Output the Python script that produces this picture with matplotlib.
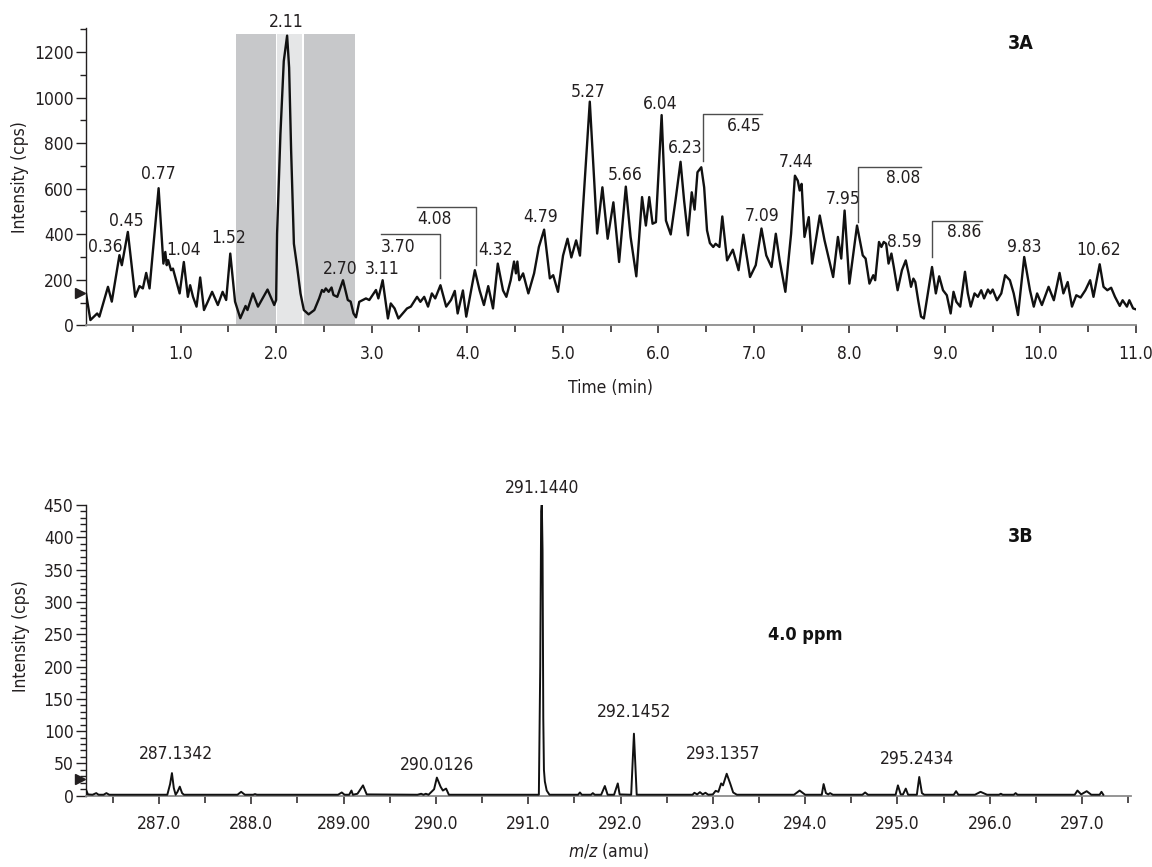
import matplotlib
matplotlib.use("Agg")
import matplotlib.pyplot as plt
import matplotlib.transforms as mtransforms
from matplotlib import font_manager
from matplotlib.ticker import MultipleLocator, FixedLocator, FixedFormatter

# --- chromatogram (3A): retention time (min) vs intensity (cps)
time_min = [0.01, 0.056, 0.127, 0.15, 0.24, 0.28, 0.36, 0.385, 0.448, 0.525, 0.57, 0.605,
            0.64, 0.675, 0.77, 0.82, 0.84, 0.855, 0.87, 0.90, 0.92, 0.99, 1.034, 1.076, 1.10,
            1.13, 1.167, 1.205, 1.245, 1.285, 1.33, 1.39, 1.44, 1.477, 1.52, 1.57, 1.625, 1.68,
            1.70, 1.757, 1.81, 1.91, 1.98, 2.00, 2.01, 2.045, 2.08, 2.115, 2.136, 2.157, 2.186,
            2.22, 2.255, 2.29, 2.34, 2.40, 2.45, 2.48, 2.50, 2.52, 2.55, 2.58, 2.60, 2.64, 2.70,
            2.75, 2.78, 2.81, 2.836, 2.87, 2.94, 2.975, 3.045, 3.07, 3.115, 3.17, 3.20, 3.24,
            3.28, 3.325, 3.37, 3.41, 3.475, 3.51, 3.55, 3.59, 3.63, 3.665, 3.72, 3.78, 3.83,
            3.87, 3.90, 3.955, 3.99, 4.035, 4.08, 4.13, 4.175, 4.22, 4.27, 4.32, 4.375, 4.41,
            4.455, 4.49, 4.51, 4.525, 4.545, 4.585, 4.64, 4.70, 4.75, 4.805, 4.865, 4.90, 4.95,
            5.003, 5.05, 5.09, 5.14, 5.18, 5.283, 5.36, 5.415, 5.47, 5.53, 5.59, 5.66, 5.71,
            5.77, 5.83, 5.87, 5.905, 5.94, 5.975, 6.035, 6.08, 6.13, 6.18, 6.233, 6.27, 6.31,
            6.35, 6.38, 6.41, 6.45, 6.48, 6.51, 6.54, 6.575, 6.60, 6.64, 6.67, 6.72, 6.78, 6.84,
            6.89, 6.96, 7.02, 7.08, 7.13, 7.185, 7.23, 7.27, 7.33, 7.39, 7.43, 7.46, 7.48, 7.50,
            7.53, 7.575, 7.61, 7.69, 7.74, 7.83, 7.88, 7.915, 7.95, 8.00, 8.08, 8.14, 8.17,
            8.21, 8.25, 8.27, 8.31, 8.335, 8.36, 8.385, 8.41, 8.44, 8.465, 8.505, 8.55, 8.59,
            8.62, 8.645, 8.67, 8.69, 8.72, 8.75, 8.78, 8.81, 8.865, 8.905, 8.94, 8.98, 9.02,
            9.06, 9.09, 9.12, 9.16, 9.21, 9.24, 9.27, 9.31, 9.345, 9.38, 9.41, 9.45, 9.475,
            9.50, 9.545, 9.59, 9.63, 9.68, 9.72, 9.765, 9.83, 9.89, 9.93, 9.965, 10.015, 10.085,
            10.14, 10.20, 10.24, 10.285, 10.33, 10.375, 10.42, 10.47, 10.52, 10.555, 10.62,
            10.66, 10.70, 10.74, 10.78, 10.83, 10.86, 10.905, 10.93, 10.97, 11.0]
tic_cps = [140, 23, 52, 38, 169, 104, 308, 264, 410, 125, 172, 162,
           230, 162, 602, 271, 322, 264, 286, 242, 249, 140, 278, 125, 176,
           125, 82, 210, 67, 104, 147, 89, 147, 111, 315, 104, 31, 85,
           67, 140, 82, 157, 89, 111, 402, 840, 1160, 1272, 1131, 767, 358,
           256, 140, 67, 48, 67, 118, 155, 147, 162, 147, 166, 133, 125, 198,
           111, 104, 52, 35, 103, 118, 111, 155, 118, 198, 30, 96, 74,
           30, 52, 74, 82, 125, 103, 125, 82, 140, 118, 176, 82, 111,
           151, 52, 153, 38, 140, 242, 153, 89, 172, 74, 271, 153, 125,
           198, 280, 228, 280, 198, 228, 140, 228, 344, 420, 206, 220, 147,
           306, 380, 298, 373, 306, 982, 403, 606, 380, 540, 278, 609, 388,
           215, 563, 438, 563, 446, 453, 923, 460, 399, 548, 718, 548, 395,
           584, 508, 672, 694, 606, 417, 361, 344, 358, 344, 478, 285, 332, 242,
           398, 212, 264, 425, 307, 256, 402, 285, 147, 402, 657, 635, 592, 621,
           388, 475, 271, 482, 373, 212, 388, 293, 504, 183, 438, 307, 293,
           183, 220, 198, 366, 344, 366, 358, 271, 315, 256, 154, 242, 285,
           227, 169, 205, 190, 110, 38, 30, 110, 256, 140, 215, 154, 132,
           52, 147, 103, 82, 235, 140, 82, 140, 125, 154, 118, 157, 140,
           157, 110, 140, 220, 198, 140, 45, 300, 154, 82, 140, 89, 169,
           110, 230, 140, 190, 82, 132, 122, 154, 198, 125, 268,
           169, 154, 165, 125, 85, 110, 82, 110, 74, 70]

# peak labels on the chromatogram
rt_labels = ["0.36", "0.45", "0.77", "1.04", "1.52", "2.11", "2.70", "3.11", "4.32", "4.79",
             "5.27", "5.66", "6.04", "6.23", "7.09", "7.44", "7.95", "8.59", "9.83", "10.62"]
rt_label_x = [0.215, 0.435, 0.767, 1.028, 1.505, 2.105, 2.675, 3.105, 4.30, 4.767,
              5.265, 5.65, 6.024, 6.28, 7.085, 7.44, 7.94, 8.57, 9.83, 10.61]
rt_label_y = [344, 460, 665, 332, 383, 1332, 249, 249, 329, 475,
              1026, 662, 971, 779, 482, 716, 555, 366, 344, 332]

# bracketed labels: vertical tick at peak, horizontal bar to the label side
br_labels = ["3.70", "4.08", "6.45", "8.08", "8.86"]
br_x = [3.71, 4.087, 6.463, 8.09, 8.866]
br_low = [207, 264, 723, 453, 300]
br_high = [400, 519, 930, 697, 456]
br_end = [3.10, 3.475, 7.09, 8.75, 9.39]
br_text_y = [346, 465, 876, 647, 410]

# integration windows (min)
win_start = [1.575, 2.01, 2.287]
win_end = [1.997, 2.266, 2.823]
win_top = 1279

# --- mass spectrum (3B): m/z vs intensity (cps)
mz = [286.21, 286.23, 286.28, 286.32, 286.345, 286.40, 286.43, 286.46, 287.09, 287.12,
      287.14, 287.16, 287.18, 287.20, 287.225, 287.25, 287.27, 287.85, 287.89, 287.93,
      288.02, 288.04, 288.06, 288.94, 288.98, 289.01, 289.06, 289.085, 289.10, 289.15,
      289.21, 289.25, 289.80, 289.84, 289.865, 289.89, 289.92, 289.98, 290.01, 290.05,
      290.075, 290.11, 290.14, 291.115, 291.13, 291.14, 291.147, 291.155, 291.163, 291.17,
      291.18, 291.20, 291.23, 291.54, 291.56, 291.58, 291.68, 291.70, 291.72, 291.79,
      291.83, 291.86, 291.93, 291.97, 291.99, 292.115, 292.13, 292.145, 292.16, 292.175,
      292.78, 292.80, 292.83, 292.86, 292.89, 292.92, 292.95, 293.00, 293.03, 293.06,
      293.09, 293.11, 293.15, 293.19, 293.22, 293.26, 293.88, 293.94, 294.00, 294.18,
      294.20, 294.225, 294.25, 294.27, 294.30, 294.62, 294.65, 294.68, 294.98, 295.005,
      295.035, 295.06, 295.09, 295.115, 295.21, 295.236, 295.265, 295.29, 295.61, 295.635,
      295.66, 295.84, 295.90, 295.97, 296.10, 296.12, 296.14, 296.26, 296.28, 296.30,
      296.92, 296.95, 296.99, 297.05, 297.10, 297.19, 297.21, 297.23]
ms_cps = [9, 2, 1.5, 4, 1.5, 1.5, 4, 1.5, 1.5, 18,
          35, 12, 1.5, 6, 14, 4, 1.5, 1.5, 6, 1.5,
          1.5, 2.5, 1.5, 1.5, 5, 1.5, 1.5, 8, 1.5, 3,
          16, 2, 1.5, 3, 1.5, 3, 1.5, 10, 28, 14,
          8, 11, 1.5, 1.5, 200, 440, 453, 380, 120, 40,
          22, 8, 1.5, 1.5, 5, 1.5, 1.5, 4, 1.5, 1.5,
          15, 1.5, 1.5, 19, 2, 1.5, 50, 96, 50, 1.5,
          1.5, 4.5, 2, 5.5, 2, 4.5, 1.5, 2, 7.5, 6,
          19, 16, 34, 18, 5, 1.5, 1.5, 8, 1.5, 1.5,
          18, 4, 2, 4, 1.5, 1.5, 5, 1.5, 1.5, 16,
          2, 2, 11, 1.5, 1.5, 29, 4, 1.5, 1.5, 7,
          1.5, 1.5, 6, 1.5, 1.5, 3, 1.5, 1.5, 4, 1.5,
          1.5, 8, 2, 7, 1.5, 1.5, 6, 1.5]

mz_labels = ["287.1342", "290.0126", "291.1440", "292.1452", "293.1357", "295.2434"]
mz_label_x = [287.18, 290.015, 291.153, 292.146, 293.114, 295.21]
mz_label_y = [64, 47, 476, 130, 64, 57]

mz_ticks = [287, 288, 289, 290, 291, 292, 293, 294, 295, 296, 297]
mz_ticklabels = ["287.0", "288.0", "289.00", "290.0", "291.0", "292.0", "293.0",
                 "294.0", "295.0", "296.0", "297.0"]

# pick a narrow face if one is installed
names = {f.name for f in font_manager.fontManager.ttflist}
if "Liberation Sans Narrow" in names:
    plt.rcParams["font.family"] = ["Liberation Sans Narrow", "DejaVu Sans"]
else:
    plt.rcParams["font.family"] = ["DejaVu Sans"]
    plt.rcParams["font.stretch"] = "condensed"

ink = "#231f20"
plt.rcParams["text.color"] = ink
plt.rcParams["axes.labelcolor"] = ink
plt.rcParams["xtick.color"] = ink
plt.rcParams["ytick.color"] = ink

fig = plt.figure(figsize=(11.52, 8.67), dpi=100)
ax0 = fig.add_axes([86 / 1152, (867 - 325.3) / 867, 1050 / 1152, 297.2 / 867])
ax1 = fig.add_axes([86 / 1152, (867 - 795.7) / 867, 1045 / 1152, 290.7 / 867])

fs = 12.5

for ax in (ax0, ax1):
    ax.spines["top"].set_visible(False)
    ax.spines["right"].set_visible(False)
    ax.spines["left"].set_color(ink)
    ax.spines["bottom"].set_color("#8c8c8c")
    ax.spines["left"].set_linewidth(1.0)
    ax.spines["bottom"].set_linewidth(1.3)
    ax.tick_params(axis="y", which="major", direction="out", length=7, width=1, pad=2, labelsize=fs)
    ax.tick_params(axis="y", which="minor", direction="out", length=4.5, width=1)
    ax.tick_params(axis="x", which="major", direction="out", length=6, width=1.1, pad=8, labelsize=fs)
    ax.tick_params(axis="x", which="minor", direction="out", length=5, width=1.1)

# ---- 3A
for s, e, c in zip(win_start, win_end, ["#c7c8ca", "#e5e6e7", "#c7c8ca"]):
    ax0.fill_between([s, e], 0, win_top, color=c, lw=0, zorder=0)
ax0.plot(time_min, tic_cps, color="#111111", lw=1.7, solid_joinstyle="round", zorder=3)
ax0.set_xlim(0.01, 11.0)
ax0.set_ylim(0, 1305)
ax0.xaxis.set_major_locator(FixedLocator(list(range(1, 12))))
ax0.xaxis.set_major_formatter(FixedFormatter([f"{v}.0" for v in range(1, 12)]))
ax0.xaxis.set_minor_locator(MultipleLocator(0.5))
ax0.yaxis.set_major_locator(FixedLocator([0, 200, 400, 600, 800, 1000, 1200]))
ax0.yaxis.set_minor_locator(MultipleLocator(100))
ax0.set_xlabel("Time (min)", fontsize=fs, labelpad=12)
ax0.set_ylabel("Intensity (cps)", fontsize=fs)
ax0.yaxis.set_label_coords(-0.054, 0.5)

for t, x, y in zip(rt_labels, rt_label_x, rt_label_y):
    ax0.text(x, y, t, fontsize=fs, ha="center", va="center", clip_on=False, zorder=4)

for t, x, lo, hi, e, ty in zip(br_labels, br_x, br_low, br_high, br_end, br_text_y):
    ax0.plot([x, x, e], [lo, hi, hi], color="#4d4d4d", lw=1.0, zorder=4)
    if e < x:
        ax0.text(e, ty, t, fontsize=fs, ha="left", va="center", zorder=4)
    else:
        ax0.text(e - 0.01, ty, t, fontsize=fs, ha="right", va="center", zorder=4)

ax0.text(9.79, 1236, "3A", fontsize=14, fontweight="bold", ha="center", va="center",
         color="#111111")

# ---- 3B
ax1.plot(mz, ms_cps, color="#111111", lw=1.4, solid_joinstyle="round", zorder=3)
ax1.set_xlim(286.209, 297.53)
ax1.set_ylim(0, 450)
ax1.xaxis.set_major_locator(FixedLocator(mz_ticks))
ax1.xaxis.set_major_formatter(FixedFormatter(mz_ticklabels))
ax1.xaxis.set_minor_locator(MultipleLocator(0.5))
ax1.yaxis.set_major_locator(MultipleLocator(50))
ax1.yaxis.set_minor_locator(MultipleLocator(10))
ax1.set_xlabel(r"$m/z$ (amu)", fontsize=fs, labelpad=6)
ax1.set_ylabel("Intensity (cps)", fontsize=fs)
ax1.yaxis.set_label_coords(-0.054, 0.549)

for t, x, y in zip(mz_labels, mz_label_x, mz_label_y):
    ax1.text(x, y, t, fontsize=fs, ha="center", va="center", clip_on=False, zorder=4)

ax1.text(296.33, 401, "3B", fontsize=14, fontweight="bold", ha="center", va="center",
         color="#111111")
ax1.text(294.0, 249, "4.0 ppm", fontsize=13, fontweight="bold", ha="center", va="center",
         color="#111111")

# threshold arrows on the y axes
for ax, lvl in ((ax0, 141), (ax1, 26)):
    tr = mtransforms.blended_transform_factory(ax.transAxes, ax.transData)
    ax.plot([-0.0058], [lvl], marker=">", ms=7, color=ink, transform=tr, clip_on=False)

fig.savefig("out.png", dpi=100)
